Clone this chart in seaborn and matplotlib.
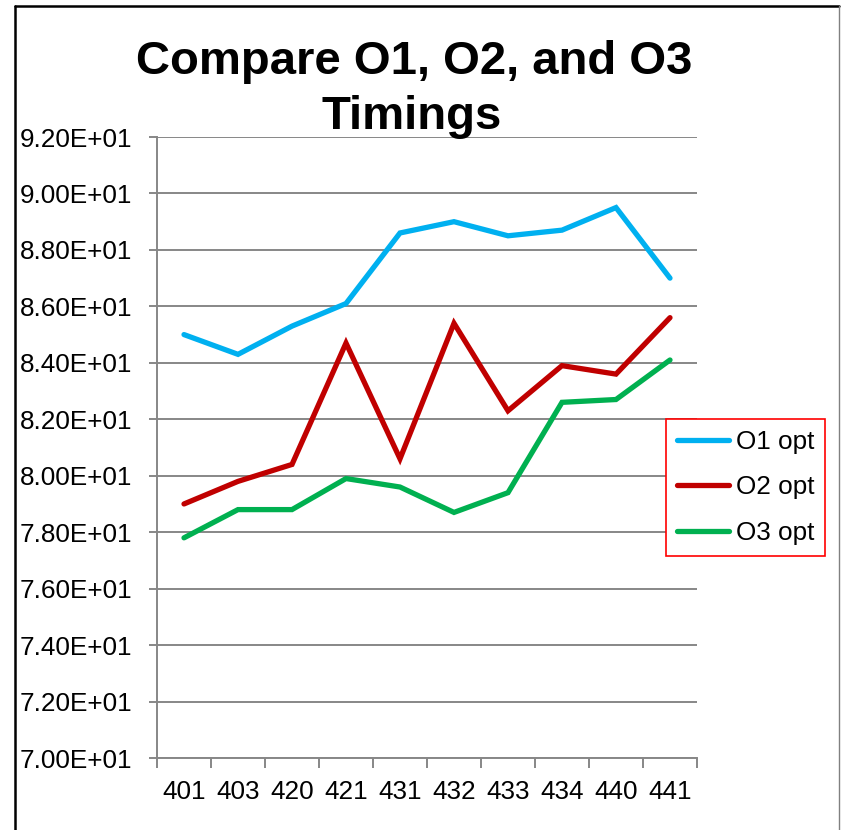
import matplotlib
matplotlib.use("Agg")
import matplotlib.pyplot as plt
import matplotlib.lines as mlines
import seaborn as sns
import pandas as pd
import numpy as np

# Benchmark ids along the x axis
benchmarks = ["401", "403", "420", "421", "431", "432", "433", "434", "440", "441"]

# Timings per optimisation level
o1_opt = [85.0, 84.3, 85.3, 86.1, 88.6, 89.0, 88.5, 88.7, 89.5, 87.0]
o2_opt = [79.0, 79.8, 80.4, 84.7, 80.6, 85.4, 82.3, 83.9, 83.6, 85.6]
o3_opt = [77.8, 78.8, 78.8, 79.9, 79.6, 78.7, 79.4, 82.6, 82.7, 84.1]

series_names = ["O1 opt", "O2 opt", "O3 opt"]
series_colors = ["#00B0F0", "#C00000", "#00B050"]

y_ticks = [70, 72, 74, 76, 78, 80, 82, 84, 86, 88, 90, 92]

sns.set_theme(style="white")
plt.rcParams["font.family"] = ["Liberation Sans", "DejaVu Sans"]
plt.rcParams["text.color"] = "black"
plt.rcParams["xtick.color"] = "black"
plt.rcParams["ytick.color"] = "black"

rows = []
for name, vals in zip(series_names, [o1_opt, o2_opt, o3_opt]):
    for i, (b, v) in enumerate(zip(benchmarks, vals)):
        rows.append({"pos": i, "benchmark": b, "series": name, "time": v})
df = pd.DataFrame(rows)

fig = plt.figure(figsize=(8.41, 8.30), dpi=100)
ax = fig.add_axes([157 / 841, 1 - 758 / 830, 540 / 841, 621 / 830])

sns.lineplot(data=df, x="pos", y="time", hue="series", hue_order=series_names,
             palette=series_colors, linewidth=3.8, ax=ax, legend=False,
             solid_capstyle="round", solid_joinstyle="miter")

grid_color = "#878787"
ax.set_xlim(-0.5, len(benchmarks) - 0.5)
ax.set_ylim(70, 92)
ax.set_yticks(y_ticks)
ax.set_yticklabels([f"{v:.2E}" for v in y_ticks])
ax.set_xticks(range(len(benchmarks)))
ax.set_xticklabels(benchmarks)
ax.set_xticks(np.arange(-0.5, len(benchmarks), 1), minor=True)
ax.set_xlabel("")
ax.set_ylabel("")

ax.yaxis.grid(True, color=grid_color, linewidth=1.4)
ax.xaxis.grid(False)
ax.set_axisbelow(True)
for side in ["top", "right"]:
    ax.spines[side].set_visible(False)
for side in ["left", "bottom"]:
    ax.spines[side].set_color(grid_color)
    ax.spines[side].set_linewidth(1.4)

ax.tick_params(axis="y", which="major", direction="out", length=6, width=1.4,
               color=grid_color, labelsize=18.8, labelcolor="black", pad=12, left=True)
ax.tick_params(axis="x", which="major", length=0, labelsize=18.8,
               labelcolor="black", pad=16)
ax.tick_params(axis="x", which="minor", direction="out", length=7, width=1.4,
               color=grid_color, bottom=True)

# Legend with a red frame at the right edge
handles = [mlines.Line2D([], [], color=c, linewidth=3.8, solid_capstyle="round")
           for c in series_colors]
leg = ax.legend(handles, series_names, loc="upper left",
                bbox_to_anchor=(666 / 841, 1 - 419 / 830),
                bbox_transform=fig.transFigure, borderaxespad=0,
                fontsize=18.8, frameon=True, fancybox=False, framealpha=1,
                handlelength=2.0, handletextpad=0.25, labelspacing=0.82,
                borderpad=0.42)
leg.get_frame().set_edgecolor("#FF0000")
leg.get_frame().set_linewidth(1.2)

# Title in two lines
fig.text(414 / 841, 1 - 74 / 830, "Compare O1, O2, and O3", ha="center",
         va="baseline", fontsize=34, fontweight="bold", color="black")
fig.text(412 / 841, 1 - 129 / 830, "Timings", ha="center",
         va="baseline", fontsize=34, fontweight="bold", color="black")

# Outer chart frame
fig.add_artist(mlines.Line2D([15 / 841, 15 / 841], [0, 1 - 6 / 830],
                             transform=fig.transFigure, color="black", linewidth=1.8))
fig.add_artist(mlines.Line2D([15 / 841, 839 / 841], [1 - 6 / 830, 1 - 6 / 830],
                             transform=fig.transFigure, color="black", linewidth=1.8))
fig.add_artist(mlines.Line2D([839 / 841, 839 / 841], [0, 1 - 6 / 830],
                             transform=fig.transFigure, color="#808080", linewidth=1.0))

fig.savefig("out.png", dpi=100)
